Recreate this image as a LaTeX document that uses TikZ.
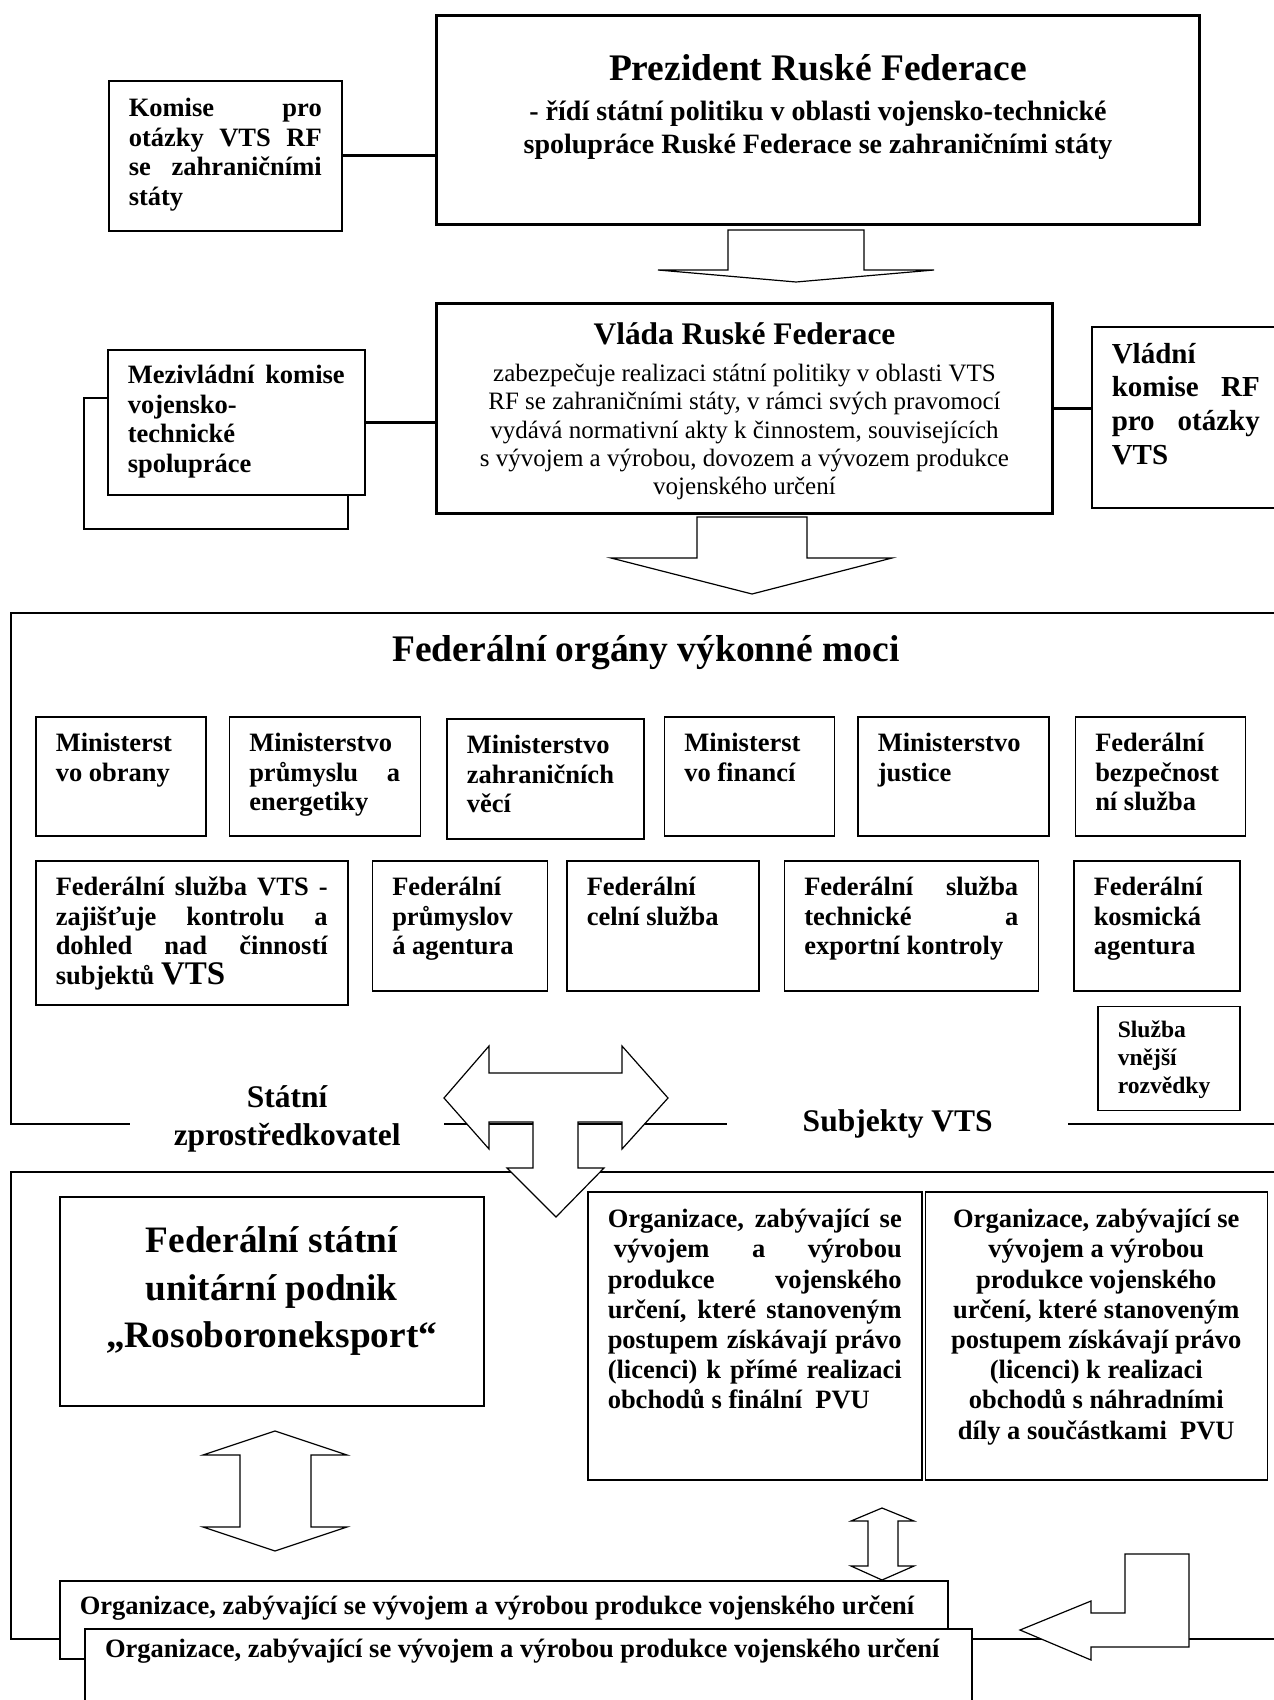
\documentclass[tikz,border=0pt]{standalone}
\usepackage{fontspec}
\setmainfont{Liberation Serif}
\usetikzlibrary{positioning}

% box text: width, height, first baseline, content
\newcommand{\boxtext}[4]{\parbox[c][#2][t]{#1}{\rule{0pt}{#3}#4}}
\newcommand{\jline}[1]{\makebox[\hsize][s]{#1}}

\begin{document}
\begin{tikzpicture}[x=1pt, y=-1pt,
  box/.style={draw, line width=1.5pt, fill=white, inner xsep=20pt, inner ysep=0pt, anchor=north west, font=\bfseries\fontsize{26.5}{29.5}\selectfont},
  thickbox/.style={box, line width=3pt},
  lbl/.style={fill=white, inner sep=0pt, anchor=north west, font=\bfseries\fontsize{31.5}{38}\selectfont},
  conn/.style={line width=3pt},
  frame/.style={line width=1.5pt},
  blockarr/.style={draw, fill=white, line width=1.2pt, line join=miter}
]
  \useasboundingbox (0,0) rectangle (1274,1700);

  % frames
  \draw[frame] (1290,613) -- (11,613) -- (11,1124) -- (1290,1124);
  \draw[frame] (1290,1172) -- (11,1172) -- (11,1639) -- (1290,1639);

  % president and government
  \node[thickbox, font=\bfseries\fontsize{28}{33}\selectfont] (pres) at (435,14) {\boxtext{723pt}{209pt}{65pt}{\centering%
    {\fontsize{37.5}{40}\selectfont Prezident Ruské Federace\par}\vspace{7pt}
    - řídí státní politiku v oblasti vojensko-technické\\
    spolupráce Ruské Federace se zahraničními státy}};
  \node[box] (komvts) at (108,80) {\boxtext{193pt}{150pt}{36pt}{%
    \jline{Komise pro}\\
    \jline{otázky VTS RF}\\
    \jline{se zahraničními}\\
    státy}};

  \node[box, minimum width=264pt, minimum height=131pt] (mezkomb) at (83,397) {};
  \node[box] (mezkom) at (107,349) {\boxtext{217pt}{145pt}{34pt}{%
    \jline{Mezivládní komise}\\
    vojensko-\\
    technické\\
    spolupráce}};
  \node[thickbox, font=\fontsize{25}{28.3}\selectfont] (vlada) at (435,302) {\boxtext{576pt}{210pt}{41pt}{\centering%
    {\fontsize{31.4}{36}\selectfont\bfseries Vláda Ruské Federace\par}\vspace{8.7pt}
    zabezpečuje realizaci státní politiky v oblasti VTS\\
    RF se zahraničními státy, v rámci svých pravomocí\\
    vydává normativní akty k činnostem, souvisejících\\
    s vývojem a výrobou, dovozem a vývozem produkce\\
    vojenského určení}};
  \node[box, font=\bfseries\fontsize{29}{33.7}\selectfont] (vkom) at (1091,326) {\boxtext{148pt}{181pt}{36.5pt}{%
    Vládní\\
    \jline{komise RF}\\
    \jline{pro otázky}\\
    VTS}};

  \draw[conn] (komvts.east) -- (komvts.east -| pres.west);
  \draw[conn] (mezkom.east) -- (mezkom.east -| vlada.west);
  \draw[conn] (vlada.east) -- (vlada.east -| vkom.west);

  \coordinate (tipa) at (796,282);
  \draw[blockarr] (tipa) -- ++(-138,-12) -- ++(70,0) -- ++(0,-40) -- ++(136,0) -- ++(0,40) -- ++(70,0) -- cycle;
  \coordinate (tipb) at (752,594);
  \draw[blockarr] (tipb) -- ++(-141,-36) -- ++(86,0) -- ++(0,-41) -- ++(110,0) -- ++(0,41) -- ++(85,0) -- cycle;

  % federal organs
  \node[font=\bfseries\fontsize{37.5}{40}\selectfont, anchor=base] (fedtitle) at (646,661) {Federální orgány výkonné moci};

  \node[box] (mo) at (35,716) {\boxtext{130pt}{119pt}{35pt}{Ministerst\\vo obrany}};
  \node[box, below right=0pt and 22pt of mo.north east] (mpe) {\boxtext{151pt}{119pt}{35pt}{Ministerstvo\\\jline{průmyslu a}\\energetiky}};
  \node[box, below right=2pt and 25pt of mpe.north east] (mzv) {\boxtext{157pt}{120pt}{35pt}{Ministerstvo\\zahraničních\\věcí}};
  \node[box, below right=-2pt and 19pt of mzv.north east] (mf) {\boxtext{130pt}{119pt}{35pt}{Ministerst\\vo financí}};
  \node[box, below right=0pt and 22pt of mf.north east] (mj) {\boxtext{151pt}{119pt}{35pt}{Ministerstvo\\justice}};
  \node[box, below right=0pt and 25pt of mj.north east] (fsb) {\boxtext{130pt}{119pt}{35pt}{Federální\\bezpečnost\\ní služba}};

  \node[box] (fsvts) at (35,860) {\boxtext{272pt}{144pt}{35pt}{%
    \jline{Federální služba VTS -}\\
    \jline{zajišťuje kontrolu a}\\
    \jline{dohled nad činností}\\
    subjektů {\fontsize{33}{33}\selectfont VTS}}};
  \node[box, below right=0pt and 23pt of fsvts.north east] (fpa) {\boxtext{135pt}{130pt}{35pt}{Federální\\průmyslov\\á agentura}};
  \node[box, below right=0pt and 18pt of fpa.north east] (fcs) {\boxtext{152pt}{130pt}{35pt}{Federální\\celní služba}};
  \node[box, below right=0pt and 24pt of fcs.north east] (fstek) {\boxtext{214pt}{130pt}{35pt}{%
    \jline{Federální služba}\\
    \jline{technické a}\\
    exportní kontroly}};
  \node[box, below right=0pt and 34pt of fstek.north east] (fka) {\boxtext{126pt}{130pt}{35pt}{Federální\\kosmická\\agentura}};
  \node[box, below left=14pt and 0pt of fka.south east, font=\bfseries\fontsize{23.6}{28}\selectfont] (svr) {\boxtext{102pt}{104pt}{31pt}{Služba\\vnější\\rozvědky}};

  \node[lbl] (stat) at (130,1080) {\boxtext{314pt}{80pt}{27pt}{\centering Státní\\zprostředkovatel}};
  \node[lbl] (subj) at (727,1104) {\boxtext{341pt}{40pt}{27pt}{\centering Subjekty VTS}};

  \coordinate (tipc) at (444,1098);
  \draw[blockarr] (tipc) -- ++(45,-52) -- ++(0,27) -- ++(133,0) -- ++(0,-27) -- ++(46,52) -- ++(-46,51) -- ++(0,-27)
    -- ++(-44,0) -- ++(0,46) -- ++(26,0) -- ++(-48,49) -- ++(-49,-49) -- ++(26,0) -- ++(0,-46) -- ++(-44,0) -- ++(0,27) -- cycle;

  % subjects
  \node[box, font=\bfseries\fontsize{37.3}{47.5}\selectfont] (rose) at (59,1196) {\boxtext{384pt}{209pt}{56pt}{\centering
    Federální státní\\unitární podnik\\„Rosoboroneksport“}};
  \node[box, font=\bfseries\fontsize{26.5}{30.2}\selectfont] (orgfin) at (587,1191) {\boxtext{294pt}{288pt}{36pt}{%
    \jline{Organizace, zabývající se}\\
    \jline{\hspace{6pt}vývojem a výrobou}\\
    \jline{produkce vojenského}\\
    \jline{určení, které stanoveným}\\
    \jline{postupem získávají právo}\\
    \jline{(licenci) k přímé realizaci}\\
    obchodů s finální\ \ PVU}};
  \node[box, right=2pt of orgfin, font=\bfseries\fontsize{26.5}{30.2}\selectfont] (orgnd) {\boxtext{302pt}{288pt}{36pt}{\centering
    Organizace, zabývající se\\
    vývojem a výrobou\\
    produkce vojenského\\
    určení, které stanoveným\\
    postupem získávají právo\\
    (licenci) k realizaci\\
    obchodů s náhradními\\
    díly a součástkami\ \ PVU}};

  \node[box] (orgv) at (59,1580) {\boxtext{848pt}{78pt}{34pt}{Organizace, zabývající se vývojem a výrobou produkce vojenského určení}};
  \node[box, line width=2pt] (orgv2) at (84,1628) {\boxtext{847pt}{82pt}{28pt}{Organizace, zabývající se vývojem a výrobou produkce vojenského určení}};

  \coordinate (tipd) at (275,1431);
  \draw[blockarr] (tipd) -- ++(72,24) -- ++(-36,0) -- ++(0,72) -- ++(36,0) -- ++(-72,24) -- ++(-72,-24) -- ++(37,0) -- ++(0,-72) -- ++(-37,0) -- cycle;
  \coordinate (tipe) at (882,1508);
  \draw[blockarr] (tipe) -- ++(32,13) -- ++(-16,0) -- ++(0,45) -- ++(16,0) -- ++(-32,14) -- ++(-31,-14) -- ++(17,0) -- ++(0,-45) -- ++(-17,0) -- cycle;
  \coordinate (tipf) at (1020,1630);
  \draw[blockarr] (tipf) -- ++(71,-29) -- ++(0,12) -- ++(34,0) -- ++(0,-59) -- ++(64,0) -- ++(0,93) -- ++(-98,0) -- ++(0,13) -- cycle;
\end{tikzpicture}
\end{document}
